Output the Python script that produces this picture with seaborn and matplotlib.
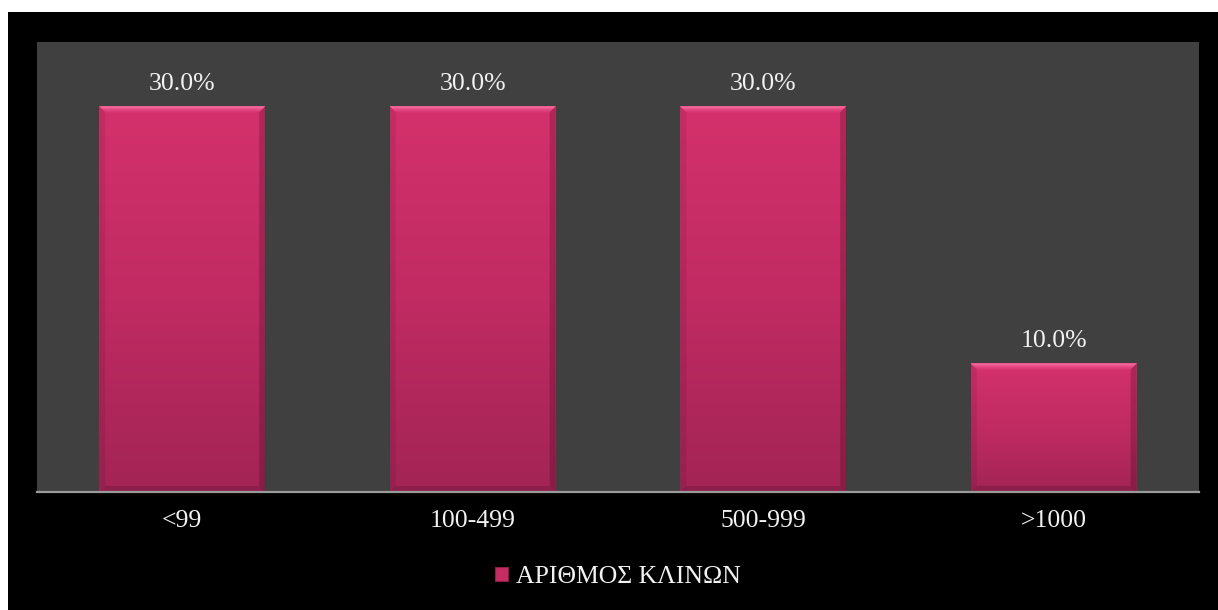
import numpy as np
import matplotlib
matplotlib.use("Agg")
import matplotlib.pyplot as plt
from matplotlib.patches import Polygon, Rectangle
from matplotlib.colors import LinearSegmentedColormap
import seaborn as sns

# Bed-count categories and their shares (%)
categories = ["<99", "100-499", "500-999", ">1000"]
shares = [30.0, 30.0, 30.0, 10.0]
series_name = "ΑΡΙΘΜΟΣ ΚΛΙΝΩΝ"

W, H, DPI = 1218, 610, 100
sns.set_theme(style="dark")
plt.rcParams["font.family"] = ["Liberation Serif", "DejaVu Serif"]

fig = plt.figure(figsize=(W / DPI, H / DPI), dpi=DPI, facecolor="black")
# thin white margins on top and left
fig.patches.append(Rectangle((0, 1 - 12 / H), 1, 12 / H, transform=fig.transFigure,
                             facecolor="white", edgecolor="none", zorder=0))
fig.patches.append(Rectangle((0, 0), 8 / W, 1, transform=fig.transFigure,
                             facecolor="white", edgecolor="none", zorder=0))

ax_l, ax_r, ax_t, ax_b = 37, 1199, 42, 492
ax = fig.add_axes([ax_l / W, 1 - ax_b / H, (ax_r - ax_l) / W, (ax_b - ax_t) / H])
ax.set_facecolor("#404040")

bar_color = "#C42C62"
sns.barplot(x=categories, y=shares, color=bar_color, width=0.571, ax=ax,
            saturation=1, edgecolor="none", zorder=2)

ymax = 35
ax.set_xlim(-0.5, len(categories) - 0.5)
ax.set_ylim(0, ymax)

# pixel -> data conversions for the bevel
px_x = (ax_r - ax_l) / len(categories)
px_y = (ax_b - ax_t) / ymax
bev = 6
dx, dy = bev / px_x, bev / px_y

grad = LinearSegmentedColormap.from_list("g", ["#A32455", "#C02B62", "#D4316B"])
gimg = np.linspace(0, 1, 256).reshape(-1, 1)

top_bands = ["#DC3C76", "#E64B85", "#F06898"]

for p, v in zip(list(ax.patches), shares):
    x, w, h = p.get_x(), p.get_width(), p.get_height()
    im = ax.imshow(gimg, cmap=grad, origin="lower", aspect="auto",
                   extent=[x, x + w, 0, h], zorder=3)
    im.set_clip_path(p)
    top = h
    # soft highlight on the top bevel, lighter toward the edge
    for k, c in enumerate(top_bands):
        f = 1 - k / len(top_bands)
        ax.add_patch(Polygon([(x, top), (x + w, top), (x + w - dx * f, top - dy * f),
                              (x + dx * f, top - dy * f)],
                             closed=True, facecolor=c, edgecolor="none", zorder=4 + k * 0.01))
    ax.add_patch(Polygon([(x, 0), (x, top), (x + dx, top - dy), (x + dx, dy)],
                         closed=True, facecolor="black", alpha=0.08, edgecolor="none", zorder=4.1))
    ax.add_patch(Polygon([(x + w, 0), (x + w, top), (x + w - dx, top - dy), (x + w - dx, dy)],
                         closed=True, facecolor="black", alpha=0.18, edgecolor="none", zorder=4.1))
    ax.add_patch(Polygon([(x, 0), (x + w, 0), (x + w - dx, dy), (x + dx, dy)],
                         closed=True, facecolor="black", alpha=0.14, edgecolor="none", zorder=4.1))
    ax.annotate(f"{v:.1f}%", (x + w / 2, h), xytext=(0, 8), textcoords="offset points",
                ha="center", va="bottom", color="#F2F2F2", fontsize=18.5, zorder=5)

ax.set_xlim(-0.5, len(categories) - 0.5)
ax.set_ylim(0, ymax)
ax.set_yticks([])
ax.grid(False)
for s in ["top", "left", "right"]:
    ax.spines[s].set_visible(False)
ax.spines["bottom"].set_color("#9A9A9A")
ax.spines["bottom"].set_linewidth(1.6)
ax.spines["bottom"].set_zorder(6)
ax.tick_params(axis="x", length=0, pad=13, colors="#F2F2F2", labelsize=18.5)

handle = Rectangle((0, 0), 1, 1, facecolor=bar_color, edgecolor="#8A1E44", linewidth=0.8)
leg = fig.legend([handle], [series_name], loc="center", bbox_to_anchor=(618 / W, 1 - 577 / H),
                 frameon=False, fontsize=18.5, handlelength=0.5, handleheight=0.5,
                 handletextpad=0.3, labelcolor="#F2F2F2")

fig.savefig("out.png", dpi=DPI, facecolor="black")
